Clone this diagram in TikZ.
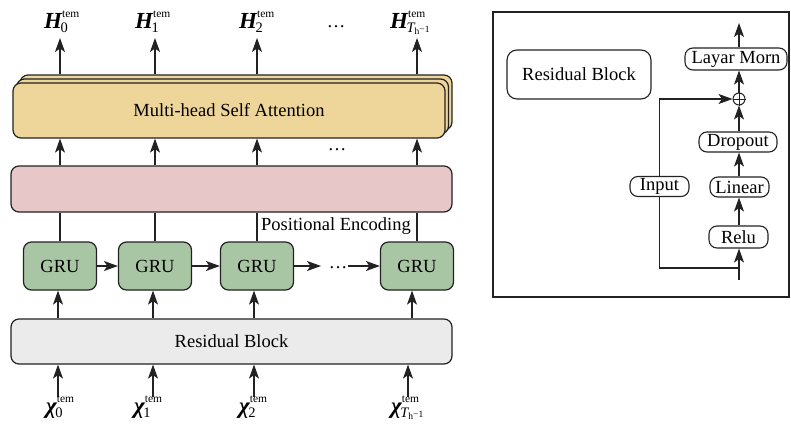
\documentclass[tikz,border=0pt]{standalone}
\usepackage{fontspec}
\setmainfont{Liberation Serif}
\usetikzlibrary{arrows.meta}
\definecolor{attn}{HTML}{EED59A}
\definecolor{pe}{HTML}{E8C7C8}
\definecolor{gru}{HTML}{A9C6A4}
\definecolor{resb}{HTML}{EBEBEB}
\definecolor{ink}{HTML}{222222}
\newcommand\mylab[2]{{\fontsize{23}{26}\selectfont\bfseries\itshape #1}\makebox[0pt][l]{\raisebox{11pt}{\fontsize{11.5}{12}\selectfont tem}}\kern-1.5pt\raisebox{-4.5pt}{\fontsize{14.5}{16}\selectfont #2}}
\newcommand\tsub{{\itshape T}\raisebox{-1.5pt}{\fontsize{9.5}{10}\selectfont h}{\fontsize{9.5}{10}\selectfont −1}}
\begin{document}
\begin{tikzpicture}[x=1pt,y=-1pt,
  ln/.style={draw=ink,line width=1.1pt},
  arr/.style={ln,-{Stealth[length=14pt,width=10pt,inset=3.5pt]}},
  bigbox/.style={draw=ink,line width=1.2pt,rounded corners=8pt,inner sep=0pt,font=\fontsize{18.5}{20}\selectfont},
  pill/.style={draw=ink,line width=1.1pt,rounded corners=8pt,inner sep=0pt,fill=white,font=\fontsize{18.5}{20}\selectfont},
  lab/.style={anchor=base west,inner sep=0pt},
  txt/.style={inner sep=0pt,font=\fontsize{18.5}{20}\selectfont}]
\fill[white] (0,0) rectangle (791,423);
\useasboundingbox (0,0) rectangle (791,423);

% ---------- left part ----------
% attention (stacked)
\node[bigbox,fill=attn,minimum width=432pt,minimum height=55pt] (att3) at (236,102.5) {};
\node[bigbox,fill=attn,minimum width=432pt,minimum height=55pt] (att2) at (232.5,106.5) {};
\node[bigbox,fill=attn,minimum width=432pt,minimum height=55pt] (att) at (229,110.5) {Multi-head Self Attention};
% positional encoding
\node[bigbox,fill=pe,minimum width=441pt,minimum height=46pt] (pe) at (231.5,189) {};
% GRUs
\node[bigbox,fill=gru,minimum width=73pt,minimum height=48pt] (g0) at (60,266) {GRU};
\node[bigbox,fill=gru,minimum width=73pt,minimum height=48pt] (g1) at (155,266) {GRU};
\node[bigbox,fill=gru,minimum width=73pt,minimum height=48pt] (g2) at (257,266) {GRU};
\node[bigbox,fill=gru,minimum width=73pt,minimum height=48pt] (g3) at (417,266) {GRU};
% residual block
\node[bigbox,fill=resb,minimum width=441pt,minimum height=45pt] (res) at (231.5,341.5) {Residual Block};

% column coordinates
\coordinate (c0) at (60,0); \coordinate (c1) at (155,0);
\coordinate (c2) at (257,0); \coordinate (c3) at (417,0);
\coordinate (d0) at (58,0); \coordinate (d1) at (153,0);
\coordinate (d2) at (254,0); \coordinate (d3) at (412,0);
\coordinate (h0) at (60,38); \coordinate (h1) at (155,38);
\coordinate (h2) at (257,38); \coordinate (h3) at (417,38);
\coordinate (i0) at (58,397); \coordinate (i1) at (153,397);
\coordinate (i2) at (254,397); \coordinate (i3) at (408,397);

% outputs
\foreach \k in {0,1,2,3}{
  \draw[arr] (att3.north -| c\k) -- (h\k);
  \draw[arr] (pe.north -| c\k) -- (att.south -| c\k);
  \draw[ln] (g\k.north) -- (pe.south -| g\k.north);
  \draw[arr] (res.north -| d\k) -- (g\k.south -| d\k);
  \draw[arr] (i\k) -- (res.south -| i\k);
}
% recurrent arrows
\node[txt,anchor=base] (dotsg) at (338,268) {…};
\coordinate (ga) at (321,266);
\coordinate (gb) at (348,266);
\draw[arr] (g0) -- (g1);
\draw[arr] (g1) -- (g2);
\draw[arr] (g2.east) -- (ga);
\draw[arr] (gb) -- (g3.west);

\node[txt,anchor=base] (dotsp) at (337,150) {…};
\node[txt,anchor=base] (dotsh) at (336,27) {…};
\node[txt,anchor=west] (pelab) at (261,226) {Positional Encoding};

% labels
\node[lab] (H0) at (44,28) {\mylab{H}{0}};
\node[lab] (H1) at (135,28) {\mylab{H}{1}};
\node[lab] (H2) at (239,28) {\mylab{H}{2}};
\node[lab] (H3) at (390,28) {\mylab{H}{\tsub}};
\node[lab] (X0) at (46,413) {\mylab{χ}{0}};
\node[lab] (X1) at (134,413) {\mylab{χ}{1}};
\node[lab] (X2) at (239,413) {\mylab{χ}{2}};
\node[lab] (X3) at (391,413) {\mylab{χ}{\tsub}};

% ---------- right panel ----------
\draw[ink,line width=1.1pt] (493,12) rectangle (789,297);
\node[draw=ink,line width=1.1pt,rounded corners=10pt,minimum width=144pt,minimum height=49pt,inner sep=0pt,font=\fontsize{18.5}{20}\selectfont] (rbt) at (579,74.5) {Residual Block};
\node[pill,minimum width=102pt,minimum height=22pt] (lm) at (736,59) {Layar Morn};
\node[circle,draw=ink,line width=1pt,minimum size=12pt,inner sep=0pt,fill=white] (plus) at (739,99) {};
\draw[ink,line width=0.7pt] (plus.north) -- (plus.south) (plus.west) -- (plus.east);
\node[pill,minimum width=78pt,minimum height=20pt] (drop) at (738,142) {Dropout};
\node[pill,minimum width=59pt,minimum height=20pt] (lin) at (739.5,187) {Linear};
\node[pill,minimum width=59pt,minimum height=22pt] (relu) at (738.5,237) {Relu};
\node[pill,minimum width=59pt,minimum height=20pt] (inp) at (659.5,186.5) {Input};
\coordinate (bot) at (739,280);
\coordinate (br) at (739,268);
\coordinate (top) at (739,23);
\draw[arr] (bot) -- (relu.south -| bot);
\draw[arr] (relu.north -| bot) -- (lin.south -| bot);
\draw[arr] (lin.north -| bot) -- (drop.south -| bot);
\draw[arr] (drop.north -| bot) -- (plus.south);
\draw[arr] (plus.north) -- (lm.south -| plus);
\draw[arr] (lm.north -| plus) -- (top);
\draw[ln] (br) -| (inp.south);
\draw[arr] (inp.north) |- (plus.west);
\end{tikzpicture}
\end{document}
